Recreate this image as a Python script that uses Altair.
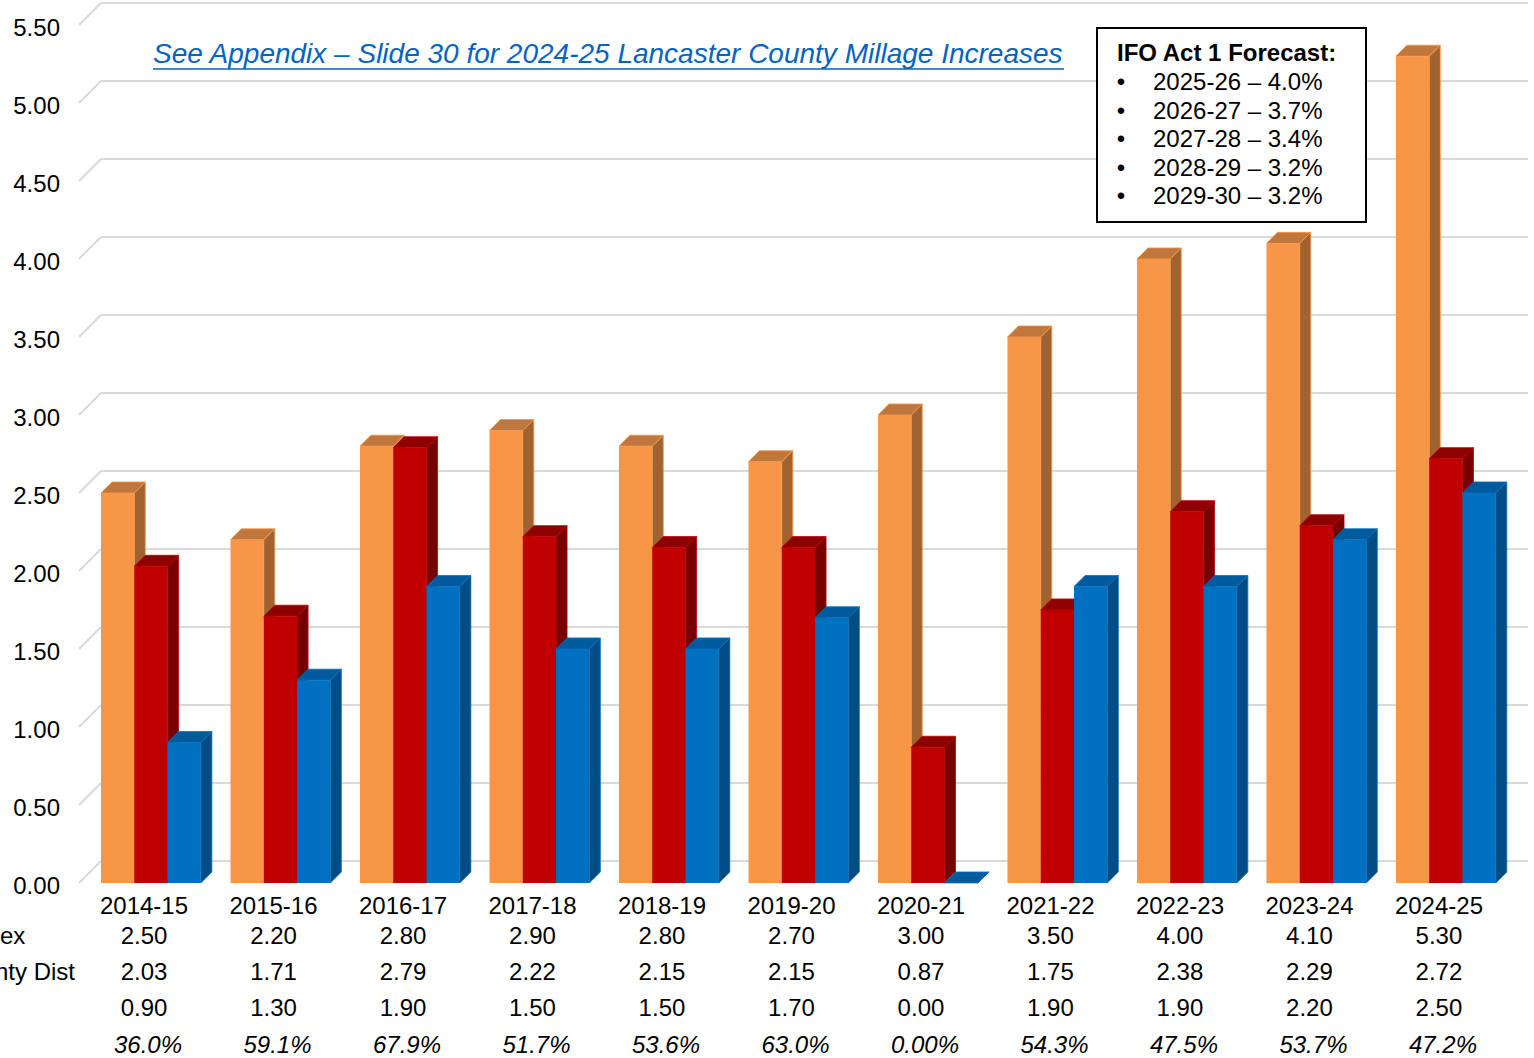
import altair as alt
import pandas as pd

# ---- data -----------------------------------------------------------------
years = ["2014-15", "2015-16", "2016-17", "2017-18", "2018-19", "2019-20",
         "2020-21", "2021-22", "2022-23", "2023-24", "2024-25"]
act1_index = [2.50, 2.20, 2.80, 2.90, 2.80, 2.70, 3.00, 3.50, 4.00, 4.10, 5.30]
county_dist = [2.03, 1.71, 2.79, 2.22, 2.15, 2.15, 0.87, 1.75, 2.38, 2.29, 2.72]
district = [0.90, 1.30, 1.90, 1.50, 1.50, 1.70, 0.00, 1.90, 1.90, 2.20, 2.50]
district_share = ["36.0%", "59.1%", "67.9%", "51.7%", "53.6%", "63.0%",
                  "0.00%", "54.3%", "47.5%", "53.7%", "47.2%"]
row_labels = ["ex", "nty Dist"]
y_ticks = [0.0, 0.5, 1.0, 1.5, 2.0, 2.5, 3.0, 3.5, 4.0, 4.5, 5.0, 5.5]

forecast_title = "IFO Act 1 Forecast:"
forecast_years = ["2025-26", "2026-27", "2027-28", "2028-29", "2029-30"]
forecast_rates = ["4.0%", "3.7%", "3.4%", "3.2%", "3.2%"]
note_text = "See Appendix \u2013 Slide 30 for 2024-25 Lancaster County Millage Increases"

# ---- geometry: x in category units, y in millage units ---------------------
W, H = 1534, 1058
X_DOMAIN = [-0.78, 11.066]
Y_DOMAIN = [-1.122, 5.660]
BAR_W = 0.257                  # width of one column face
DEPTH_X, DEPTH_Y = 0.085, 0.0705   # column depth (3-D look)
AXIS_X = -0.17                 # front edge of the value axis
WALL_LEFT, WALL_RIGHT = 0.0, 11.02
WALL_DY = 0.141                # back wall sits above/right of the front plane
LABEL_SHIFT = 0.332            # category label position inside a group

FONT = "Liberation Sans"
TXT = 24

xs = alt.Scale(domain=X_DOMAIN, nice=False, zero=False)
ys = alt.Scale(domain=Y_DOMAIN, nice=False, zero=False)


def X(f):
    return alt.X(f"{f}:Q", scale=xs, axis=None, stack=False)


def Y(f):
    return alt.Y(f"{f}:Q", scale=ys, axis=None, stack=False)


# ---- back wall gridlines and value axis ------------------------------------
grid = pd.DataFrame({
    "tick": y_ticks,
    "back": [t + WALL_DY for t in y_ticks],
    "ax": [AXIS_X] * len(y_ticks),
    "wl": [WALL_LEFT] * len(y_ticks),
    "wr": [WALL_RIGHT] * len(y_ticks),
})
grid_h = alt.Chart(grid).mark_rule(color="#d9d9d9", strokeWidth=2).encode(
    x=X("wl"), x2="wr:Q", y=Y("back"))
grid_d = alt.Chart(grid).mark_rule(color="#d9d9d9", strokeWidth=2).encode(
    x=X("ax"), x2="wl:Q", y=Y("tick"), y2="back:Q")
tick_labels = alt.Chart(grid).mark_text(
    align="right", baseline="middle", dx=-19, dy=4, font=FONT, fontSize=TXT,
    color="black"
).encode(x=X("ax"), y=Y("tick"), text=alt.Text("tick:Q", format=".2f"))

# ---- 3-D columns: side face, top face, front face per series ---------------
series = [
    (act1_index, "#F79646", "#C0773D", "#A0622F"),
    (county_dist, "#C00000", "#8E0000", "#780000"),
    (district, "#0070C0", "#005A9C", "#004C84"),
]
bar_layers = []
for j, (vals, front, top, side) in enumerate(series):
    fr, sd, tp = [], [], []
    for i, v in enumerate(vals):
        x0 = i + j * BAR_W
        x1 = x0 + BAR_W
        fr.append(dict(x0=x0, x1=x1, v=v, base=0.0))
        sd.append(dict(bar=i, x=x1, lo=0.0, hi=v))
        sd.append(dict(bar=i, x=x1 + DEPTH_X, lo=DEPTH_Y, hi=v + DEPTH_Y))
        tp.append(dict(bar=i, y=v, xl=x0, xr=x1))
        tp.append(dict(bar=i, y=v + DEPTH_Y, xl=x0 + DEPTH_X, xr=x1 + DEPTH_X))
    side_face = alt.Chart(pd.DataFrame(sd)).mark_area(
        fill=side, stroke=front, strokeWidth=0.8
    ).encode(x=X("x"), y=Y("hi"), y2="lo:Q", detail="bar:N")
    top_face = alt.Chart(pd.DataFrame(tp)).mark_area(
        orient="horizontal", fill=top, stroke=front, strokeWidth=0.8
    ).encode(y=Y("y"), x=X("xl"), x2="xr:Q", detail="bar:N")
    front_face = alt.Chart(pd.DataFrame(fr)).mark_rect(color=front).encode(
        x=X("x0"), x2="x1:Q", y=Y("v"), y2="base:Q")
    bar_layers += [side_face, top_face, front_face]

# ---- data table under the columns -----------------------------------------
table = pd.DataFrame({
    "pos": [i + LABEL_SHIFT for i in range(len(years))],
    "year": years,
    "idx": act1_index,
    "cty": county_dist,
    "dist": district,
    "share": district_share,
})


def table_row(field, ypx, fmt=None, italic=False, dx=0):
    text = alt.Text(f"{field}:Q", format=fmt) if fmt else alt.Text(f"{field}:N")
    return alt.Chart(table).mark_text(
        align="center", baseline="middle", font=FONT, fontSize=TXT, color="black",
        fontStyle="italic" if italic else "normal", y=ypx, dx=dx
    ).encode(x=X("pos"), text=text)


table_layers = [
    table_row("year", 907),
    table_row("idx", 937, ".2f"),
    table_row("cty", 973, ".2f"),
    table_row("dist", 1009, ".2f"),
    table_row("share", 1046, italic=True, dx=4),
]

one = pd.DataFrame({"k": [0]})
row_label_layers = [
    alt.Chart(one).mark_text(
        text=lbl, align="left", baseline="middle", font=FONT, fontSize=TXT, color="black"
    ).encode(x=alt.value(xpx), y=alt.value(ypx))
    for lbl, xpx, ypx in zip(row_labels, [0, -5], [937, 973])
]

# ---- annotations -----------------------------------------------------------
note = alt.Chart(one).mark_text(
    text=note_text, align="left", baseline="middle", font=FONT, fontSize=28,
    fontStyle="italic", color="#0563C1"
).encode(x=alt.value(153), y=alt.value(55))
note_underline = alt.Chart(one).mark_rule(color="#0563C1", strokeWidth=1.5).encode(
    x=alt.value(153), x2=alt.value(1064), y=alt.value(69))

box = alt.Chart(one).mark_rect(fill="white", stroke="black", strokeWidth=2).encode(
    x=alt.value(1097), x2=alt.value(1366), y=alt.value(28), y2=alt.value(222))
box_title = alt.Chart(one).mark_text(
    text=forecast_title, align="left", baseline="middle", font=FONT, fontSize=TXT,
    fontWeight="bold", color="black"
).encode(x=alt.value(1117), y=alt.value(54))
lines = [f"{y} \u2013 {r}" for y, r in zip(forecast_years, forecast_rates)]
box_items = alt.Chart(one).mark_text(
    text=lines, align="left", baseline="top", font=FONT, fontSize=TXT,
    lineHeight=28.6, color="black"
).encode(x=alt.value(1153), y=alt.value(71))
box_bullets = alt.Chart(one).mark_text(
    text=["\u2022"] * len(lines), align="center", baseline="top", font=FONT,
    fontSize=TXT, lineHeight=28.6, color="black"
).encode(x=alt.value(1121), y=alt.value(71))

chart = alt.layer(
    grid_h, grid_d, tick_labels,
    *bar_layers,
    *table_layers, *row_label_layers,
    note, note_underline, box, box_title, box_items, box_bullets,
).properties(
    width=W, height=H, padding=0,
    autosize=alt.AutoSizeParams(type="none"),
    background="white",
).configure_view(stroke=None)

chart.save("out.html", embed_options={"renderer": "svg", "actions": False})
